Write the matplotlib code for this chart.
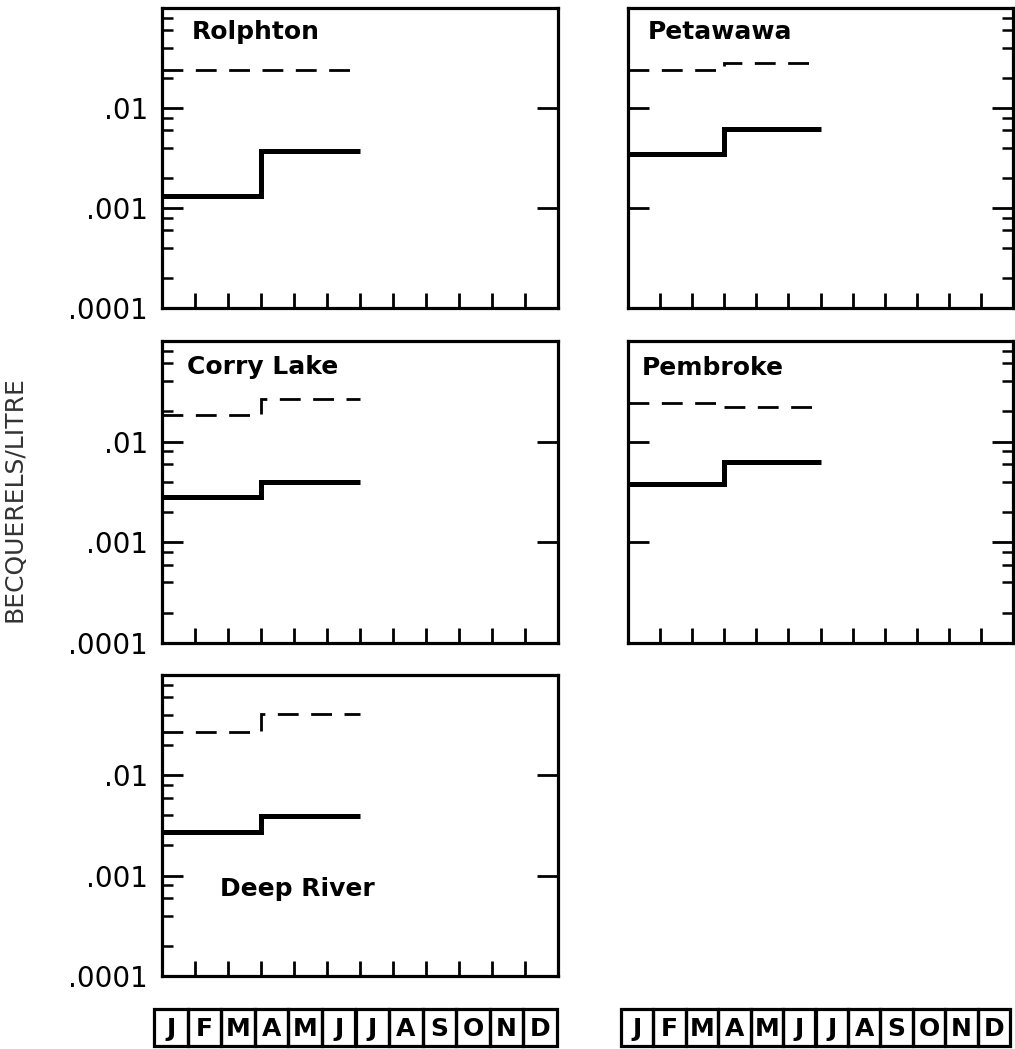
import numpy as np
import matplotlib
matplotlib.use("Agg")
import matplotlib.pyplot as plt
from matplotlib.ticker import LogLocator, FixedLocator, FuncFormatter, NullFormatter
from matplotlib.patches import Rectangle

# Quarterly averages (Bq/L); step edges in months from 1 January
edges = [0, 3, 6]
months = ["J", "F", "M", "A", "M", "J", "J", "A", "S", "O", "N", "D"]

stations = ["Rolphton", "Petawawa", "Corry Lake", "Pembroke", "Deep River"]
rolphton_solid = [0.00133, 0.0037]
rolphton_dashed = [0.024, 0.024]
petawawa_solid = [0.0035, 0.0061]
petawawa_dashed = [0.024, 0.028]
corry_solid = [0.0028, 0.0040]
corry_dashed = [0.0185, 0.0265]
pembroke_solid = [0.0038, 0.0063]
pembroke_dashed = [0.024, 0.022]
deep_solid = [0.0027, 0.0039]
deep_dashed = [0.027, 0.041]

ytick_labels = {1e-2: ".01", 1e-3: ".001", 1e-4: ".0001"}

W, H = 1015, 1049
fig = plt.figure(figsize=(W / 100, H / 100), dpi=100)


def px_axes(x0, x1, top, bottom):
    return fig.add_axes([x0 / W, (H - bottom) / H, (x1 - x0) / W, (bottom - top) / H])


LEFT = (162, 558)
RIGHT = (628, 1013)
ROWS = [(8, 308), (341, 643), (675, 976)]

layout = [
    ("Rolphton", LEFT, ROWS[0], rolphton_solid, rolphton_dashed, "left", (0.075, 0.92)),
    ("Petawawa", RIGHT, ROWS[0], petawawa_solid, petawawa_dashed, "right", (0.05, 0.92)),
    ("Corry Lake", LEFT, ROWS[1], corry_solid, corry_dashed, "left", (0.063, 0.915)),
    ("Pembroke", RIGHT, ROWS[1], pembroke_solid, pembroke_dashed, "right", (0.036, 0.91)),
    ("Deep River", LEFT, ROWS[2], deep_solid, deep_dashed, "left", (0.147, 0.29)),
]

SPINE_LW = 2.3
for name, (x0, x1), (top, bottom), solid, dashed, col, (tx, ty) in layout:
    ax = px_axes(x0, x1, top, bottom)
    ax.set_yscale("log")
    ax.set_ylim(1e-4, 1e-1)
    ax.set_xlim(0, 12)

    ax.stairs(dashed, edges, baseline=None, color="black", lw=2.0,
              linestyle=(0, (7.5, 4.5)))
    ax.stairs(solid, edges, baseline=None, color="black", lw=3.6)

    for sp in ax.spines.values():
        sp.set_linewidth(SPINE_LW)

    ax.xaxis.set_major_locator(FixedLocator(np.arange(1, 12)))
    ax.xaxis.set_major_formatter(NullFormatter())
    ax.tick_params(axis="x", which="both", direction="in", length=11, width=2,
                   top=False, bottom=True)

    ax.yaxis.set_major_locator(FixedLocator([1e-3, 1e-2]))
    ax.yaxis.set_minor_locator(LogLocator(base=10, subs=(2, 4, 6, 8), numticks=10))
    ax.tick_params(axis="y", which="major", direction="in", length=15, width=2,
                   left=True, right=True)
    ax.tick_params(axis="y", which="minor", direction="in", length=8, width=1.8,
                   left=(col == "left"), right=(col == "right"))
    ax.yaxis.set_minor_formatter(NullFormatter())
    if col == "left":
        ax.yaxis.set_major_locator(FixedLocator([1e-4, 1e-3, 1e-2]))
        ax.yaxis.set_major_formatter(FuncFormatter(
            lambda v, p: ytick_labels.get(round(v, 6), "")))
        ax.tick_params(axis="y", which="major", labelsize=20, pad=10)
    else:
        ax.yaxis.set_major_formatter(NullFormatter())

    ax.text(tx, ty, name, transform=ax.transAxes, fontsize=18,
            fontweight="bold", ha="left", va="center")

# Month strips under each column
for (x0, x1) in [(154, 557), (621, 1010)]:
    mx = px_axes(x0, x1, 1009, 1046)
    mx.set_xlim(0, 12)
    mx.set_ylim(0, 1)
    mx.axis("off")
    for i, m in enumerate(months):
        mx.add_patch(Rectangle((i, 0), 1, 1, fill=False, lw=2.3,
                               edgecolor="black", clip_on=False))
        mx.text(i + 0.5, 0.47, m, ha="center", va="center", fontsize=18,
                fontweight="bold")

fig.text(15 / W, 1 - 499 / H, "BECQUERELS/LITRE", rotation=90,
         ha="center", va="center", fontsize=18, color="#333333")

fig.savefig("out.png", dpi=100)
